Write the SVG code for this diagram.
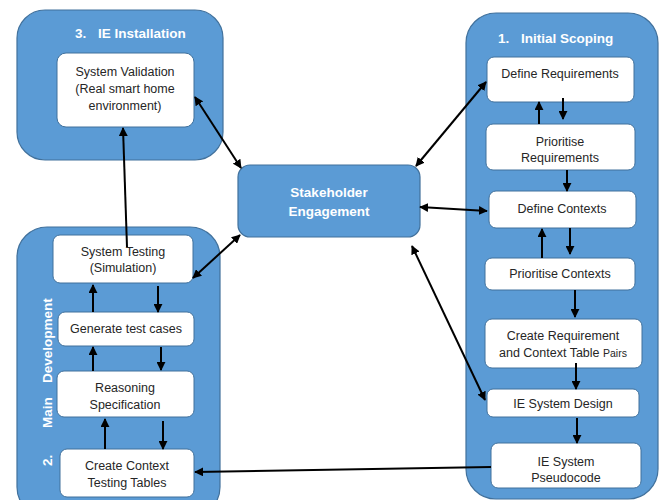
<svg xmlns="http://www.w3.org/2000/svg" width="662" height="500" viewBox="0 0 662 500">
<defs>
<marker id="ah" viewBox="0 0 10 10" refX="9" refY="5" markerWidth="9" markerHeight="9" markerUnits="userSpaceOnUse" orient="auto-start-reverse">
<path d="M0,0 L10,5 L0,10 z" fill="#000"/>
</marker>
<style>
.cont{fill:#5B9BD5;stroke:#41719C;stroke-width:1.2}
.box{fill:#fff;stroke:#41719C;stroke-width:1}
.t{font-family:"Liberation Sans",Arial,sans-serif;font-size:12.5px;fill:#262626;text-anchor:middle}
.h{font-family:"Liberation Sans",Arial,sans-serif;font-size:13.5px;font-weight:bold;fill:#fff}
.c line{stroke:#000;stroke-width:2}
</style>
</defs>
<rect width="662" height="500" fill="#fff"/>

<g id="installation">
<rect class="cont" x="17" y="10" width="206" height="150" rx="28"/>
<text class="h" x="75" y="38">3.</text>
<text class="h" x="98" y="38">IE Installation</text>
</g>
<g id="scoping">
<rect class="cont" x="466" y="13" width="192" height="486" rx="30"/>
<text class="h" x="498" y="43">1.</text>
<text class="h" x="521" y="43">Initial Scoping</text>
</g>
<g id="development">
<rect class="cont" x="17" y="227" width="203" height="290" rx="30"/>
<g transform="translate(52,466) rotate(-90)">
<text class="h" x="0" y="0">2.</text>
<text class="h" x="38" y="0">Main</text>
<text class="h" x="83" y="0">Development</text>
</g>
</g>

<g id="validation"><rect class="box" x="57" y="53" width="137" height="74" rx="9"/>
<text class="t" x="125" y="76">System Validation</text><text class="t" x="125" y="93">(Real smart home</text><text class="t" x="125" y="110">environment)</text></g>

<g id="stakeholder"><rect class="cont" x="238" y="165" width="182" height="72" rx="12"/>
<text class="h" x="329" y="197" text-anchor="middle">Stakeholder</text><text class="h" x="329" y="216" text-anchor="middle">Engagement</text></g>

<g id="defreq"><rect class="box" x="487" y="57" width="147" height="45" rx="7"/><text class="t" x="560" y="78">Define Requirements</text></g>
<g id="prireq"><rect class="box" x="486" y="124" width="149" height="46" rx="7"/><text class="t" x="560" y="146">Prioritise</text><text class="t" x="560" y="162">Requirements</text></g>
<g id="defctx"><rect class="box" x="489" y="191" width="147" height="37" rx="7"/><text class="t" x="562" y="213">Define Contexts</text></g>
<g id="prictx"><rect class="box" x="485" y="258" width="150" height="32" rx="7"/><text class="t" x="560" y="278">Prioritise Contexts</text></g>
<g id="pairs"><rect class="box" x="485" y="319" width="157" height="49" rx="7"/><text class="t" x="563" y="340">Create Requirement</text><text class="t" x="563" y="357">and Context Table <tspan font-size="10.5">Pairs</tspan></text></g>
<g id="design"><rect class="box" x="487" y="389" width="152" height="28" rx="6"/><text class="t" x="563" y="408">IE System Design</text></g>
<g id="pseudo"><rect class="box" x="491" y="443" width="150" height="45" rx="7"/><text class="t" x="566" y="466">IE System</text><text class="t" x="566" y="482">Pseudocode</text></g>

<g id="systest"><rect class="box" x="53" y="235" width="140" height="48" rx="7"/><text class="t" x="123" y="256">System Testing</text><text class="t" x="123" y="272">(Simulation)</text></g>
<g id="gentest"><rect class="box" x="58" y="312" width="136" height="34" rx="7"/><text class="t" x="126" y="333">Generate test cases</text></g>
<g id="reason"><rect class="box" x="57" y="371" width="137" height="46" rx="7"/><text class="t" x="125" y="392">Reasoning</text><text class="t" x="125" y="409">Specification</text></g>
<g id="ctxtables"><rect class="box" x="60" y="449" width="134" height="48" rx="7"/><text class="t" x="127" y="470">Create Context</text><text class="t" x="127" y="487">Testing Tables</text></g>

<g id="connectors" class="c">
<line x1="195" y1="97" x2="241" y2="168" marker-start="url(#ah)" marker-end="url(#ah)"/>
<line x1="416" y1="166" x2="486" y2="82" marker-start="url(#ah)" marker-end="url(#ah)"/>
<line x1="420" y1="207" x2="487" y2="211" marker-start="url(#ah)" marker-end="url(#ah)"/>
<line x1="412" y1="246" x2="485" y2="400" marker-start="url(#ah)" marker-end="url(#ah)"/>
<line x1="193" y1="278" x2="240" y2="235" marker-start="url(#ah)" marker-end="url(#ah)"/>
<line x1="491" y1="467" x2="195" y2="472" marker-end="url(#ah)"/>
<line x1="127" y1="247" x2="123" y2="128" marker-end="url(#ah)"/>

<line x1="539" y1="124" x2="539" y2="102" marker-end="url(#ah)"/>
<line x1="563" y1="98" x2="563" y2="119" marker-end="url(#ah)"/>
<line x1="567" y1="170" x2="567" y2="191" marker-end="url(#ah)"/>
<line x1="542" y1="258" x2="542" y2="229" marker-end="url(#ah)"/>
<line x1="570" y1="228" x2="570" y2="254" marker-end="url(#ah)"/>
<line x1="575" y1="290" x2="575" y2="317" marker-end="url(#ah)"/>
<line x1="576" y1="363" x2="576" y2="389" marker-end="url(#ah)"/>
<line x1="577" y1="418" x2="577" y2="443" marker-end="url(#ah)"/>

<line x1="93" y1="312" x2="93" y2="285" marker-end="url(#ah)"/>
<line x1="158" y1="286" x2="158" y2="312" marker-end="url(#ah)"/>
<line x1="93" y1="371" x2="93" y2="347" marker-end="url(#ah)"/>
<line x1="161" y1="347" x2="161" y2="370" marker-end="url(#ah)"/>
<line x1="105" y1="449" x2="105" y2="419" marker-end="url(#ah)"/>
<line x1="163" y1="421" x2="163" y2="449" marker-end="url(#ah)"/>
</g>
</svg>
